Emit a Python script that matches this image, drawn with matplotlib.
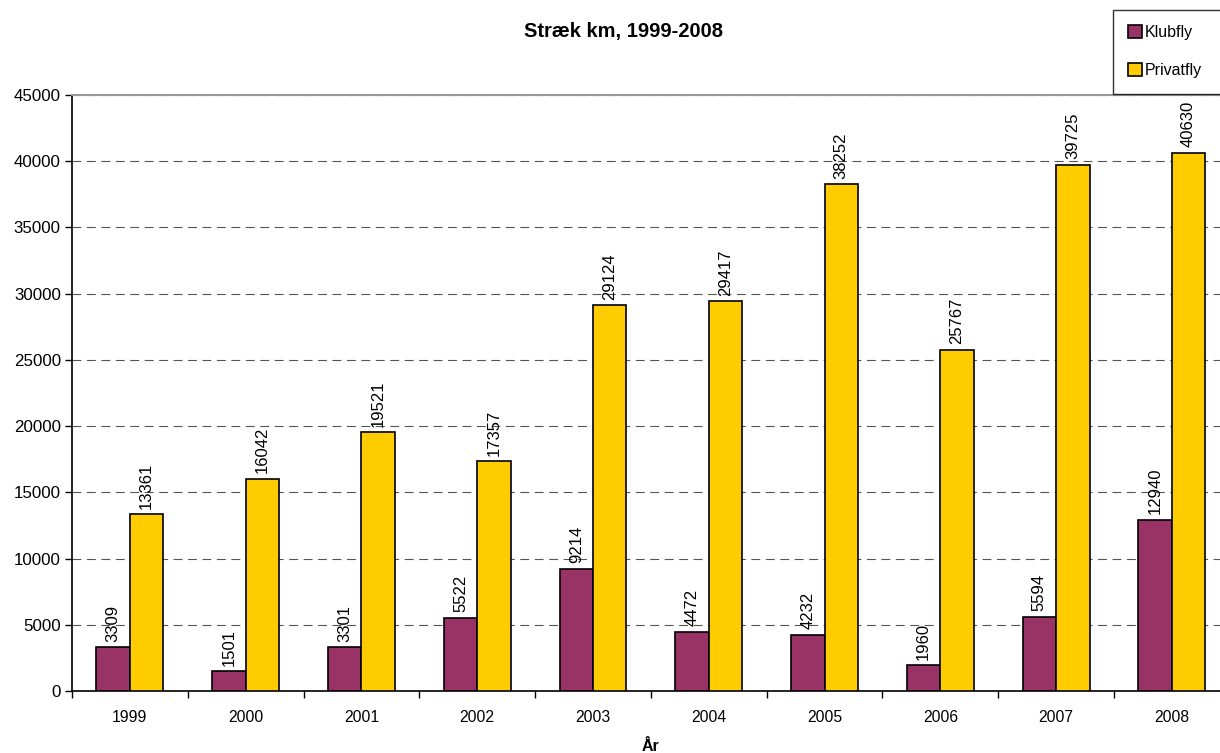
import numpy as np
import matplotlib.pyplot as plt

plt.rcParams['font.family'] = ['Liberation Sans', 'DejaVu Sans']

years = ['1999', '2000', '2001', '2002', '2003', '2004', '2005', '2006', '2007', '2008']
klubfly = [3309, 1501, 3301, 5522, 9214, 4472, 4232, 1960, 5594, 12940]
privatfly = [13361, 16042, 19521, 17357, 29124, 29417, 38252, 25767, 39725, 40630]

fig = plt.figure(figsize=(12.2, 7.53), dpi=100)
# plot area runs a little past the right edge of the picture, as in the original
ax = fig.add_axes([0.059, 0.0823, 0.949, 0.7915])

x = np.arange(len(years))
w = 0.289
b1 = ax.bar(x - w/2, klubfly, w, color='#993366', edgecolor='black', linewidth=1.2, label='Klubfly', zorder=3)
b2 = ax.bar(x + w/2, privatfly, w, color='#FFCC00', edgecolor='black', linewidth=1.2, label='Privatfly', zorder=3)

for bars in (b1, b2):
    for r in bars:
        h = r.get_height()
        ax.annotate(str(int(h)), (r.get_x() + r.get_width()/2, h), xytext=(0, 4),
                    textcoords='offset points', rotation=90, ha='center', va='bottom', fontsize=12)

ax.set_xlim(-0.5, len(years) - 0.5)
ax.set_ylim(0, 45000)
ax.set_yticks(np.arange(0, 45001, 5000))
ax.set_xticks(x)
ax.set_xticklabels(years, fontsize=11.3)
ax.set_xticks(np.arange(-0.5, len(years), 1), minor=True)
ax.tick_params(axis='x', which='major', length=0, pad=14)
ax.tick_params(axis='x', which='minor', length=5, width=1)
ax.tick_params(axis='y', labelsize=12.2, length=5, width=1, pad=3)

ax.yaxis.grid(True, linestyle=(0, (8, 5)), color='#555555', linewidth=0.8, zorder=0)
ax.set_axisbelow(True)
ax.spines['right'].set_visible(False)
ax.spines['top'].set_color('#999999')
ax.spines['top'].set_linewidth(1.5)
ax.spines['left'].set_linewidth(1.2)
ax.spines['bottom'].set_linewidth(1.2)

ax.set_xlabel('År', fontsize=11.5, fontweight='bold', labelpad=10)
fig.text(0.511, 0.958, 'Stræk km, 1999-2008', ha='center', va='center', fontsize=14.5, fontweight='bold')

# legend box is cut off by the right edge in the original
leg = fig.legend(loc='upper left', bbox_to_anchor=(1113/1220, 1 - 90/753, 130/1220, 80/753), mode='expand',
                 fontsize=11.5, frameon=True, fancybox=False, edgecolor='black',
                 handlelength=0.85, handleheight=0.85, handletextpad=0.2, labelspacing=1.45,
                 borderpad=0.95, borderaxespad=0)
leg.get_frame().set_linewidth(1.0)

fig.savefig('out.png', dpi=100)
